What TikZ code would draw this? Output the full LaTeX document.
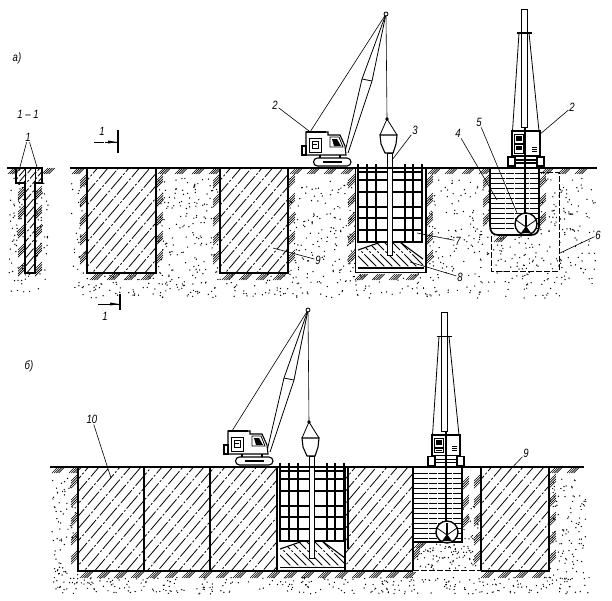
\documentclass[tikz,border=0pt]{standalone}
\usepackage{fontspec}
\setmainfont{Liberation Sans}
\usetikzlibrary{calc}
\tikzset{
  lab/.style={font=\fontsize{12}{14}\selectfont\itshape,inner sep=1pt,xscale=.8},
  lead/.style={line width=.6pt},
  wall/.style={line width=1.7pt},
  thin line/.style={line width=.8pt},
  mach/.style={line width=1.1pt},
  grndl/.style={line width=1.5pt},
  tick/.style={line width=.65pt},
  hatchl/.style={line width=.8pt,dash pattern=on 17pt off 2pt on 2pt off 2pt},
  waterl/.style={line width=.8pt,dash pattern=on 14pt off 1pt on 8pt off 1pt},
}
% random stipple
\newcommand{\stip}[5]{%
  \foreach \i in {1,...,#5}{%
    \pgfmathsetmacro\xx{#1+rnd*(#3-#1)}%
    \pgfmathsetmacro\yy{#2+rnd*(#4-#2)}%
    \fill (\xx,\yy) circle (.72);
  }}
% concrete diagonal hatching
\newcommand{\conc}[5]{%
  \begin{scope}
    \clip (#1,#2) rectangle (#3,#4);
    \pgfmathtruncatemacro\N{((#3-#1)+(#4-#2))/#5+1}%
    \foreach \n in {0,...,\N}{%
      \pgfmathsetmacro\k{#1-(#4-#2)*.85+\n*#5}%
      \pgfmathsetmacro\e{\k+(#4-#2)*.85}%
      \draw[hatchl,dash phase=\n*7] (\k,#4) -- (\e,#2);
    }
  \end{scope}}
% earth ticks: horizontal run
\newcommand{\tickH}[3]{%
  \pgfmathtruncatemacro\N{(#2-#1-8)/17}%
  \foreach \n in {0,...,\N}{\foreach \m in {0,...,3}{%
    \pgfmathsetmacro\p{#1+\n*17+\m*2.2}%
    \pgfmathsetmacro\q{\p+6}%
    \draw[tick] (\p,#3+6) -- (\q,#3);
  }}}
% earth ticks: vertical run, #4 = 1 earth at right, -1 at left
\newcommand{\tickV}[4]{%
  \pgfmathtruncatemacro\N{(#3-#2-8)/19}%
  \foreach \n in {0,...,\N}{\foreach \m in {0,...,3}{%
    \pgfmathsetmacro\p{#2+\n*19+\m*2.4}%
    \pgfmathsetmacro\xa{#1+(#4-1)*3.5}%
    \pgfmathsetmacro\xb{\xa+7}%
    \draw[tick] (\xa,\p+7) -- (\xb,\p);
  }}}
% crane, local frame of part a; #1 tip y
\newcommand{\crane}[1]{%
  \draw[thin line] (386,#1) -- (362,79) -- (345.5,150);
  \draw[thin line] (386,#1) -- (372,81) -- (348,153);
  \draw[thin line] (362,79) -- (372,81);
  \draw[lead] (386,#1) -- (310,132);
  \draw[thin line,fill=white] (386,#1) circle (2);
  \draw[mach,fill=white] (306,132) -- (328,132) -- (328,135) -- (340,135) -- (345,146) -- (346,155) -- (306,155) -- cycle;
  \draw[mach,fill=white] (302,146) rectangle (306,155);
  \draw[line width=1.5pt] (306,132) -- (326,132);
  \draw[thin line] (309,138) rectangle (321,152);
  \draw[thin line] (312,141) rectangle (318,148);
  \draw[lead] (313,144) -- (317,144);
  \draw[thin line] (330,137) -- (339,137) -- (343,147) -- (330,147) -- cycle;
  \fill (332,139) -- (337,139) -- (341,146) -- (334,146) -- cycle;
  \draw[mach] (320,155) -- (320,158) (340,155) -- (340,158);
  \draw[mach,fill=white,rounded corners=4pt] (313.5,158) rectangle (351,166);
  \draw[line width=1.4pt] (323,162) -- (342,162);
}
% reinforcing cage, local frame of part a
\newcommand{\cage}{%
  \foreach \x in {358,367,376,405,413,422}{\draw[mach] (\x,164) -- (\x,243);}
  \foreach \y in {172,180,192,207,218,230,242}{\draw[mach] (358,\y) -- (422,\y);}
  \draw[mach] (355.5,168) -- (355.5,250);
  \draw[mach] (426,168) -- (426,250);
}
% hopper and tremie pipe
\newcommand{\hopper}{%
  \draw[thin line] (387,119) -- (380,135);
  \draw[thin line] (387,119) -- (397,135);
  \fill (387,119) circle (1.8);
  \draw[mach,fill=white] (380,135) -- (397,135) -- (396,144) -- (393,153) -- (385,153) -- (381,144) -- cycle;
  \draw[thin line,fill=white] (387.5,153) rectangle (392,255);
}
% drilling rig, local frame of part a; #1 box top, #2 mast top
\newcommand{\rig}[2]{%
  \draw[thin line,fill=white] (521,#2) rectangle (527,#1-4);
  \draw[line width=1.2pt] (517,#2+24) -- (532,#2+24);
  \draw[thin line] (519,#2+24) -- (512.5,#1);
  \draw[thin line] (529,#2+24) -- (539,#1);
  \draw[mach,fill=white] (512,#1) rectangle (540,156);
  \draw[thin line] (514.5,#1+3) rectangle (523,#1+12.5);
  \draw[thin line] (514.5,#1+13.5) rectangle (523,156-3);
  \fill (516,#1+4.5) rectangle (521.5,#1+10);
  \fill (516,#1+15) rectangle (521.5,156-6);
  \draw[lead] (532,156-9) -- (537,156-9) (532,156-7) -- (537,156-7) (532,156-5) -- (537,156-5);
  \draw[mach] (508,157) rectangle (515,166);
  \draw[mach] (537,157) rectangle (544,166);
  \draw[mach] (515,160) -- (537,160) (515,163) -- (537,163);
}
% grab
\newcommand{\grab}[2]{%
  \draw[line width=1.4pt,fill=white] (#1,#2) circle (11);
  \draw[thin line] (#1-10,#2-4) -- (#1,#2+3) -- (#1+10,#2-4);
  \fill (#1,#2+2) -- (#1-5,#2+9) -- (#1+5,#2+9) -- cycle;
  \draw[line width=2.8pt] (#1,#2+2) -- (#1,#2-9);
}
\begin{document}
\begin{tikzpicture}[x=1pt,y=-1pt]
\useasboundingbox (0,0) rectangle (612,600);
\fill[white] (0,0) rectangle (612,600);
\pgfmathsetseed{2024}

% ---------------- stipple part a
\stip{8}{178}{48}{292}{130}
\stip{70}{178}{596}{298}{1350}
% ---------------- part a panels & trenches (white out)
\fill[white] (87,168) rectangle (156,273);
\fill[white] (220,168) rectangle (288,273);
\fill[white] (355,168) rectangle (426,273);
\fill[white] (490,168) rectangle (539,236);
\fill[white] (25,168) rectangle (35,273);
\fill[white] (16,168) rectangle (42,183);
\fill[white] (565,284) rectangle (612,300);
\fill[white] (70,168) rectangle (612,178);

\conc{87}{168}{156}{273}{10.5}
\conc{220}{168}{288}{273}{10.5}
\conc{25}{168}{35}{273}{7}
\conc{16}{168}{25}{183}{5}
\conc{35}{168}{42}{183}{5}

% earth ticks part a
\tickH{8}{17}{168}
\tickH{42}{50}{168}
\tickV{25}{186}{270}{-1}
\tickV{35}{186}{270}{1}
\tickH{72}{87}{168}
\tickH{158}{220}{168}
\tickH{290}{355}{168}
\tickH{428}{490}{168}
\tickH{541}{596}{168}
\tickV{87}{174}{268}{-1}
\tickV{156}{174}{268}{1}
\tickV{220}{174}{268}{-1}
\tickV{288}{174}{268}{1}
\tickV{355}{174}{268}{-1}
\tickV{426}{174}{268}{1}
\tickV{490}{174}{228}{-1}
\tickV{539}{174}{222}{1}
\tickH{90}{156}{274}
\tickH{222}{288}{274}
\tickH{355}{426}{274}
\tickH{494}{515}{236}

% walls part a
\draw[wall] (16,168) -- (16,183) -- (25,183) -- (25,273) -- (35,273) -- (35,183) -- (42,183) -- (42,168);
\draw[thin line] (25,168) -- (25,183) (35,168) -- (35,183);
\draw[wall] (87,168) -- (87,273) -- (156,273) -- (156,168);
\draw[wall] (220,168) -- (220,273) -- (288,273) -- (288,168);
\draw[wall] (355.5,168) -- (355.5,272.5) -- (426,272.5) -- (426,168);
\draw[mach] (358,268) -- (423.5,268);

% mound a
\begin{scope}
  \clip (358,250) -- (381,242) -- (400,242) -- (423,259) -- (423,268) -- (358,268) -- cycle;
  \foreach \n in {0,...,14}{\pgfmathsetmacro\p{340+\n*8}\pgfmathsetmacro\e{\p+30}%
    \draw[hatchl] (\p,238) -- (\e,268);}
\end{scope}
\draw[mach] (358,250) -- (381,242) (400,242) -- (423,259);
\cage
\hopper
\draw[lead] (386,14) -- (387,119);
\crane{14}

% rig a and trench
\draw[wall] (490,168) -- (490,226) .. controls (490,232) and (493,235) .. (498,235) -- (531,235) .. controls (536,235) and (539,232) .. (539,226) -- (539,168);
\foreach \y in {173,178,...,232}{\draw[waterl] (491,\y) -- (538,\y);}
\rig{131}{9}
\draw[line width=2.8pt] (525,127) -- (525,214);
\grab{526}{224}
\draw[thin line,dash pattern=on 6pt off 2pt] (539,172) -- (559,172) -- (559,271) -- (491,271) -- (491,236);

% ground a
\draw[grndl] (7,168) -- (43,168);
\draw[grndl] (70,168) -- (597,168);

% labels a
\node[lab] (lA) at (17,58) {а)};
\node[lab] (sec) at (28,114) {1 – 1};
\node[lab] (l1) at (28,137) {1};
\coordinate (t1a) at (20,167); \coordinate (t1b) at (37,167);
\draw[lead] (l1) -- (t1a); \draw[lead] (l1) -- (t1b);

\node[lab] (s1) at (102,131) {1};
\coordinate (s1a) at (94,142); \coordinate (s1b) at (118,142);
\draw[lead,dash pattern=on 10pt off 1pt on 14pt] (s1a) -- (s1b);
\fill (108,140.5) -- (117,142) -- (108,143.5) -- cycle;
\draw[line width=1.3pt] (118,130) -- (118,153);
\node[lab] (s2) at (105,316) {1};
\coordinate (s2a) at (98,304); \coordinate (s2b) at (119,304);
\draw[lead] (s2a) -- (s2b);
\fill (110,302.5) -- (119,304) -- (110,305.5) -- cycle;
\draw[line width=1.3pt] (120,294) -- (120,310);

\node[lab] (l2a) at (275,105) {2};   \coordinate (t2a) at (309,131); \draw[lead] (l2a) -- (t2a);
\node[lab] (l3) at (415,130) {3};    \coordinate (t3) at (392,160);  \draw[lead] (l3) -- (t3);
\node[lab] (l4) at (458,133) {4};    \coordinate (t4) at (497,200);  \draw[lead] (l4) -- (t4);
\node[lab] (l5) at (479,122) {5};    \coordinate (t5) at (517,213);  \draw[lead] (l5) -- (t5);
\node[lab] (l2b) at (572,107) {2};   \coordinate (t2b) at (539,135); \draw[lead] (l2b) -- (t2b);
\node[lab] (l6) at (598,235) {6};    \coordinate (t6) at (560,253);  \draw[lead] (l6) -- (t6);
\node[lab] (l7) at (458,241) {7};    \coordinate (t7) at (417,233);  \draw[lead] (l7) -- (t7);
\node[lab] (l8) at (460,277) {8};    \coordinate (t8) at (410,262);  \draw[lead] (l8) -- (t8);
\node[lab] (l9) at (318,260) {9};    \coordinate (t9) at (273,248);  \draw[lead] (l9) -- (t9);

% ---------------- part b
\stip{52}{478}{78}{590}{75}
\stip{55}{577}{590}{594}{300}
\stip{549}{478}{586}{580}{110}
\stip{414}{544}{478}{569}{80}
\stip{463}{505}{479}{542}{20}

\conc{78}{467}{277}{571}{10.5}
\conc{345}{467}{413}{571}{10.5}
\conc{481}{467}{549}{571}{10.5}

\tickH{52}{78}{467}
\tickH{550}{584}{467}
\tickV{78}{474}{565}{-1}
\tickV{549}{474}{565}{1}
\tickV{481}{474}{565}{-1}
\tickV{413}{546}{566}{1}
\tickH{80}{413}{572}
\tickH{481}{549}{572}
\tickV{462}{476}{530}{1}
\tickH{414}{436}{542}

\draw[line width=1.8pt] (78,467) -- (78,571) -- (413,571);
\draw[line width=1.8pt] (481,571) -- (549,571) -- (549,467);
\draw[mach] (144,467) -- (144,571);
\draw[mach] (210,467) -- (210,571);
\draw[mach] (345,467) -- (345,571);
\draw[mach] (277,467) -- (277,571);
\draw[wall] (413,467) -- (413,571);
\draw[wall] (481,467) -- (481,571);
\draw[lead,dash pattern=on 6pt off 2pt] (413,570) -- (481,570);

% mound b & cage b (local frame shifted)
\begin{scope}[shift={(-78,299)}]
  \draw[mach] (358,268.5) -- (423.5,268.5);
  \begin{scope}
    \clip (358,250) -- (381,242) -- (400,242) -- (423,259) -- (423,268) -- (358,268) -- cycle;
    \foreach \n in {0,...,14}{\pgfmathsetmacro\p{340+\n*8}\pgfmathsetmacro\e{\p+30}%
      \draw[hatchl] (\p,238) -- (\e,268);}
  \end{scope}
  \draw[mach] (358,250) -- (381,242) (400,242) -- (423,259);
  \cage
\end{scope}
\begin{scope}[shift={(-78,303)}]
  \hopper
\end{scope}
\begin{scope}[shift={(-78,299)}]
  \draw[lead] (386,11) -- (387,124);
  \crane{11}
\end{scope}

% rig b and trench
\draw[wall] (413,467) -- (413,542) -- (462,542) -- (462,467);
\foreach \y in {473,478,...,538}{\draw[waterl] (414,\y) -- (461,\y);}
\begin{scope}[shift={(-80,299.5)}]
  \rig{135.5}{13}
\end{scope}
\draw[line width=2.8pt] (446,431) -- (446,522);
\grab{447}{532}

% ground b
\draw[grndl] (50,467) -- (78,467);
\draw[grndl] (78,467) -- (584,467);

\node[lab] (lB) at (29,366) {б)};
\node[lab] (l10) at (92,419) {10};  \coordinate (t10) at (111,478); \draw[lead] (l10) -- (t10);
\node[lab] (l9b) at (526,453) {9};  \coordinate (t9b) at (508,472); \draw[lead] (l9b) -- (t9b);
\end{tikzpicture}
\end{document}
